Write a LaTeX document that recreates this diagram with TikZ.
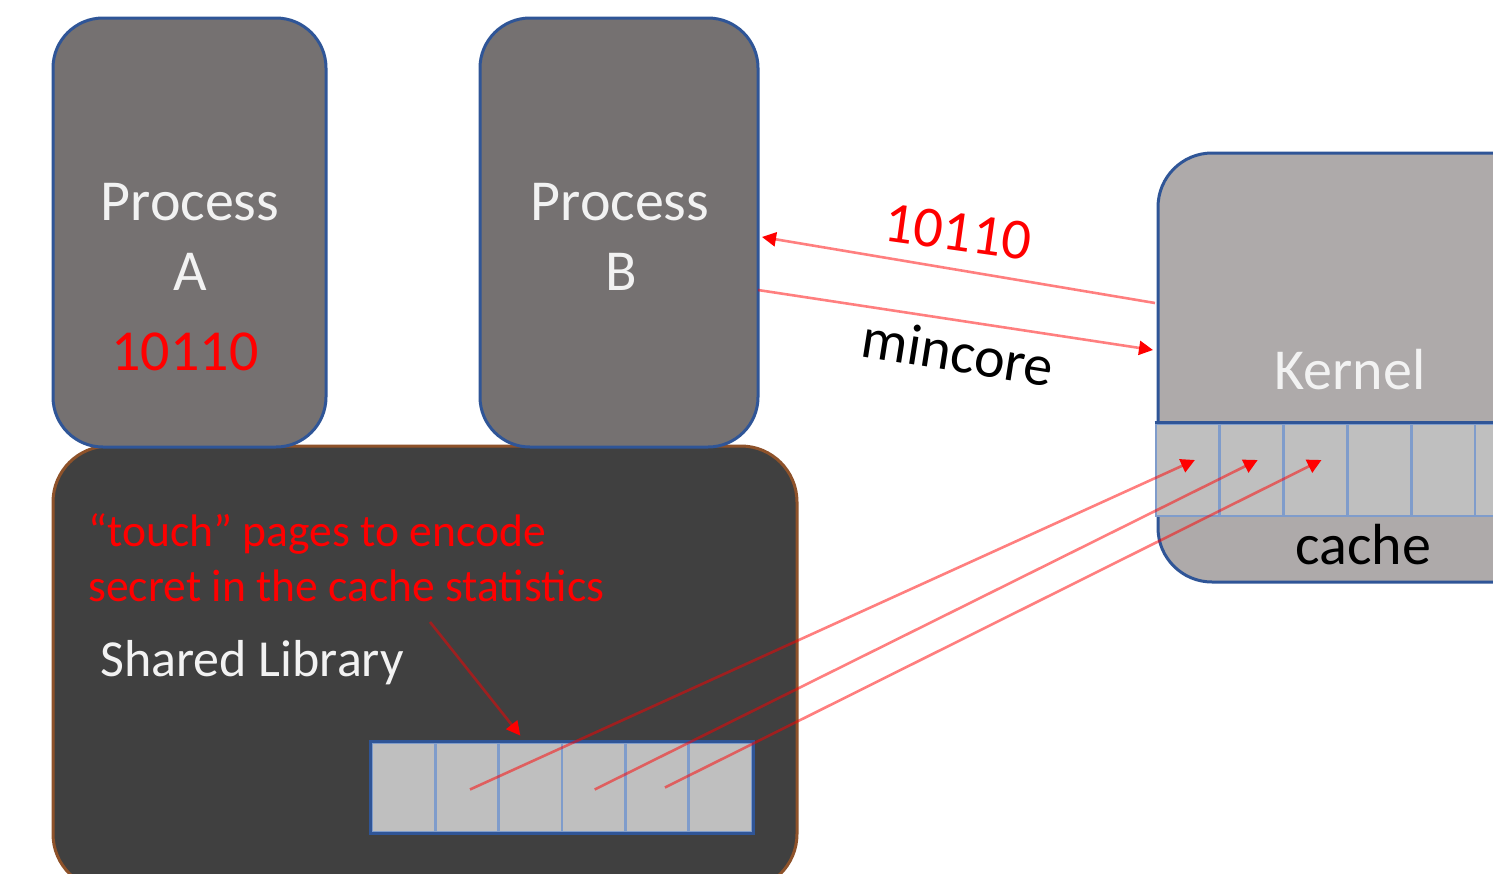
\documentclass[tikz,border=0pt]{standalone}
\usepackage{fontspec}
\setmainfont{Carlito}
\usetikzlibrary{arrows.meta,calc}
\definecolor{procgray}{HTML}{757171}
\definecolor{kerngray}{HTML}{AEAAAA}
\definecolor{libdark}{HTML}{404040}
\definecolor{bordblue}{HTML}{2F5597}
\definecolor{libbrown}{HTML}{8E522A}
\definecolor{cellgray}{HTML}{BFBFBF}
\definecolor{cellblue}{HTML}{7F9CCB}
\definecolor{offwhite}{HTML}{F2F2F2}
\begin{document}
\begin{tikzpicture}[x=0.5pt,y=-0.5pt,
  procbox/.style={rectangle, draw=bordblue, fill=procgray, line width=1.5pt, rounded corners=25pt, inner sep=0pt},
  kernbox/.style={rectangle, draw=bordblue, fill=kerngray, line width=1.5pt, rounded corners=27pt, inner sep=0pt},
  libbox/.style={rectangle, draw=libbrown, fill=libdark, line width=1.5pt, rounded corners=28pt, inner sep=0pt},
  kcell/.style={rectangle, draw=cellblue, fill=cellgray, line width=1.4pt, minimum width=31.9pt, minimum height=46pt, inner sep=0pt},
  lcell/.style={rectangle, draw=cellblue, fill=cellgray, line width=1.4pt, minimum width=31.67pt, minimum height=44.5pt, inner sep=0pt},
  bigtxt/.style={inner sep=0pt, font=\fontsize{29}{35}\selectfont},
  whitetxt/.style={bigtxt, text=offwhite},
  redln/.style={draw=red, draw opacity=0.5, line width=1.3pt, shorten >=7pt},
  redtip/.style={draw=red, line width=1.3pt, -{Triangle[length=7pt,width=7pt]}}
]
\useasboundingbox (0,0) rectangle (1493,873);
\fill[white] (0,0) rectangle (1493,873);
\clip (0,0) rectangle (1493,873);

% boxes
\node[libbox, minimum width=372pt, minimum height=222pt] (lib) at (425,668) {};
\node[procbox, minimum width=136.5pt, minimum height=214.5pt] (pa) at (189.5,232.5) {};
\node[procbox, minimum width=139pt, minimum height=214.5pt] (pb) at (619,232.5) {};
\node[kernbox, minimum width=201pt, minimum height=214.5pt] (kern) at (1359,367.5) {};

% kernel cache cells
\foreach \i in {1,...,7} {
  \node[kcell] (k\i) at ({1187.9+63.8*(\i-1)},470) {};
}
\draw[bordblue, line width=1.5pt] (k1.north west) -- (k7.north east);

% library cells
\foreach \i in {1,...,6} {
  \node[lcell] (l\i) at ({403.67+63.33*(\i-1)},787.5) {};
}
\draw[bordblue, line width=1.5pt] (l1.north west) rectangle (l6.south east);

% texts
\node[whitetxt] (pat) at (190,202) {Process};
\node[whitetxt] (paa) at (190,272) {A};
\node[bigtxt, text=red] (pasec) at (185,352) {10110};
\node[whitetxt] (pbt) at (620,202) {Process};
\node[whitetxt] (pbb) at (621,272) {B};
\node[whitetxt] (kt) at (1350,370) {Kernel};
\node[bigtxt, text=black] (ct) at (1363,545) {cache};
\node[bigtxt, text=red, rotate=-8] (lab1) at (958,232) {10110};
\node[bigtxt, text=black, rotate=-9] (lab2) at (958,352) {mincore};
\node[inner sep=0pt, anchor=west, align=left, text=red, font=\fontsize{22.8}{27.5}\selectfont] (note) at (88,558) {“touch” pages to encode\\secret in the cache statistics};
\node[inner sep=0pt, anchor=west, text=offwhite, font=\fontsize{26}{31}\selectfont] (shl) at (100,663) {Shared Library};

% mincore arrows
\coordinate (kin1) at (1155,303);
\coordinate (pbin1) at (762,237);
\coordinate (pbout) at (758,290);
\coordinate (kin2) at (1153,350);
\draw[redln] (kin1) -- (pbin1);
\draw[redtip] ($(pbin1)!7pt!(kin1)$) -- (pbin1);
\draw[redln] (pbout) -- (kin2);
\draw[redtip] ($(kin2)!7pt!(pbout)$) -- (kin2);

% callout arrow
\coordinate (cs) at (430,622);
\coordinate (ce) at ($(l3.north)+(-10,-6)$);
\draw[redln] (cs) -- (ce);
\draw[redtip] ($(ce)!7pt!(cs)$) -- (ce);

% page arrows
\coordinate (s1) at ($(l2.center)+(3,2)$);
\coordinate (e1) at ($(k1.center)+(7,-10)$);
\coordinate (s2) at ($(l4.center)+(1,2)$);
\coordinate (e2) at ($(k2.center)+(6,-10)$);
\coordinate (s3) at ($(l5.center)+(8,0)$);
\coordinate (e3) at ($(k3.center)+(6,-10)$);
\draw[redln] (s1) -- (e1);
\draw[redtip] ($(e1)!7pt!(s1)$) -- (e1);
\draw[redln] (s2) -- (e2);
\draw[redtip] ($(e2)!7pt!(s2)$) -- (e2);
\draw[redln] (s3) -- (e3);
\draw[redtip] ($(e3)!7pt!(s3)$) -- (e3);
\end{tikzpicture}
\end{document}
